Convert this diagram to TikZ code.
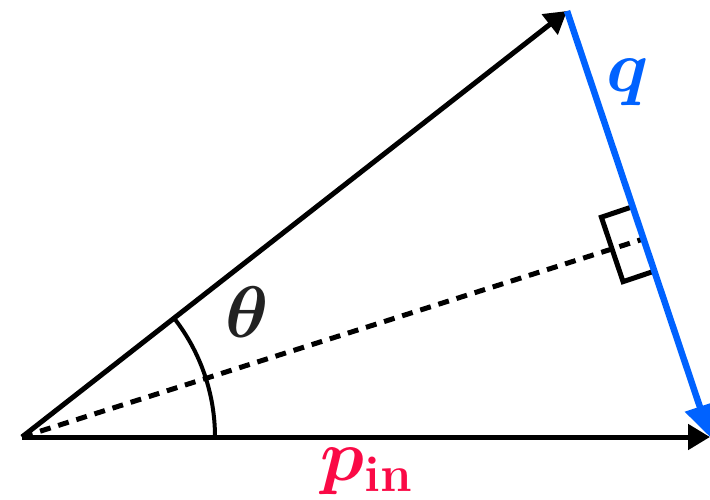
\documentclass[tikz,border=0pt]{standalone}
\usepackage{bm}
\usetikzlibrary{arrows.meta,calc}
\definecolor{qblue}{RGB}{0,98,255}
\definecolor{pred}{RGB}{250,10,70}
\definecolor{thgray}{RGB}{34,34,34}
\newcommand{\bigtxt}[1]{\scalebox{2.934}{\fontsize{24.88}{30}\selectfont #1}}
\begin{document}
\begin{tikzpicture}[x=1pt,y=-1pt,
  vec/.style={line width=5pt,-{Triangle[length=22pt,width=25pt]}},
  qvec/.style={line width=6.5pt,color=qblue,-{Triangle[length=32pt,width=30pt]}},
  dashline/.style={line width=5pt,dash pattern=on 11pt off 8pt},
  anglearc/.style={line width=4pt},
  rightmark/.style={line width=5pt,line join=miter},
  lbl/.style={inner sep=0pt}]
\useasboundingbox (0,0) rectangle (710,499);
\coordinate (O) at (22,437);
\coordinate (A) at (567,11);
\coordinate (B) at (710,437);
\coordinate (F) at ($(A)!0.535!(B)$);
\coordinate (R1) at ($(F)!34pt!(A)$);
\coordinate (R4) at ($(F)!34pt!(B)$);
\coordinate (R2) at ($(R1)!33pt!-90:(F)$);
\coordinate (R3) at ($(R4)!33pt!90:(F)$);
\coordinate (S) at ($(O)+(193,0)$);
% dotted line to foot
\draw[dashline] (O) -- (F);
% angle arc
\draw[anglearc] (S) arc[start angle=0,end angle=-38,radius=193];
% right-angle marker
\draw[rightmark] (R1) -- (R2) -- (R3) -- (R4);
% vectors
\draw[vec] (O) -- (A);
\draw[vec] (O) -- (B);
\draw[qvec] (A) -- (B);
% labels
\node[lbl,text=thgray] (th) at (247,312) {\bigtxt{$\bm{\theta}$}};
\node[lbl,text=qblue] (ql) at (628,82) {\bigtxt{$\bm{q}$}};
\node[lbl,text=pred] (pl) at (367,471) {\bigtxt{$\bm{p}_{\mbox{\fontsize{17.28}{20}\selectfont\bfseries in}}$}};
\end{tikzpicture}
\end{document}
